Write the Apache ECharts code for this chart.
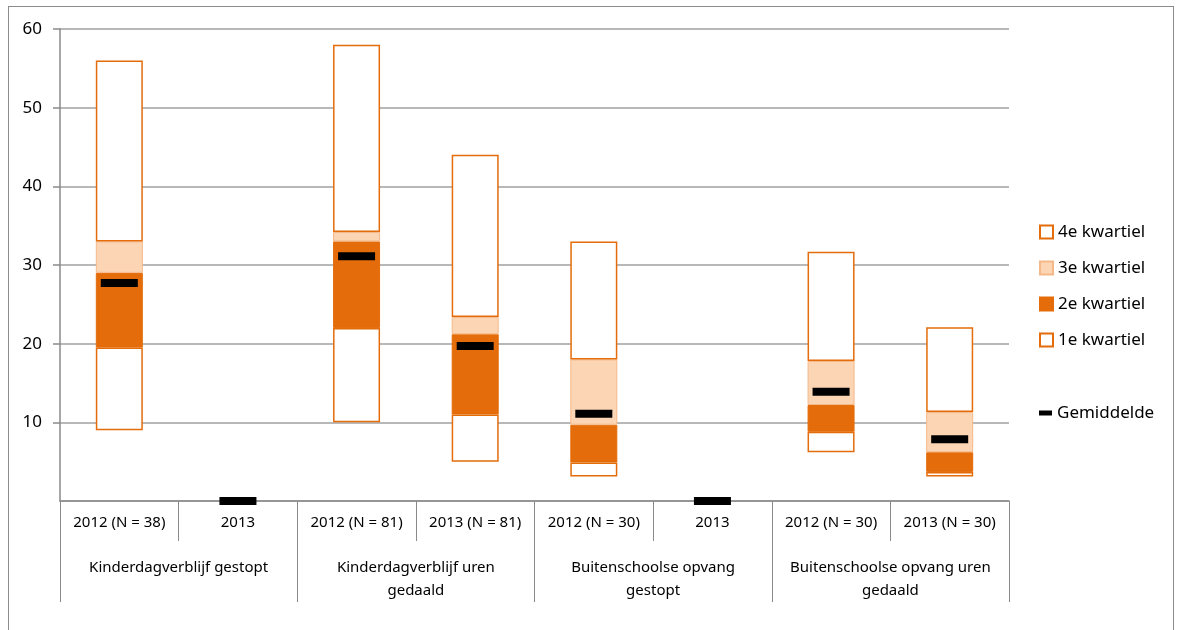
<!DOCTYPE html>
<html>
<head>
<meta charset="utf-8">
<script src="https://cdn.jsdelivr.net/npm/echarts@6/dist/echarts.min.js"></script>
<style>
  html, body { margin: 0; padding: 0; background: #fff; }
  #wrap { position: relative; width: 1177px; height: 630px; overflow: hidden; }
  #frame { position: absolute; left: 8px; top: 6px; width: 1166px; height: 660px; border: 1px solid #8c8c8c; box-sizing: border-box; }
  #chart { position: absolute; left: 0; top: 0; width: 1177px; height: 630px; }
</style>
</head>
<body>
<div id="wrap">
  <div id="frame"></div>
  <div id="chart"></div>
</div>
<script>
// categories (lower level) and groups (upper level)
const categories = ["2012 (N = 38)", "2013", "2012 (N = 81)", "2013 (N = 81)", "2012 (N = 30)", "2013", "2012 (N = 30)", "2013 (N = 30)"];
const groups = ["Kinderdagverblijf gestopt", "Kinderdagverblijf uren\ngedaald", "Buitenschoolse opvang\ngestopt", "Buitenschoolse opvang uren\ngedaald"];

// quartile boundaries (null = no data)
const minimum = [9, null, 10, 5, 3.1, null, 6.2, 3.1];
const q1 = [19.5, null, 22, 11, 4.9, null, 8.8, 3.7];
const median = [29, null, 33, 21.2, 9.7, null, 12.2, 6.2];
const q3 = [33, null, 34.2, 23.4, 18, null, 17.8, 11.3];
const maximum = [56, null, 58, 44, 33, null, 31.7, 22.1];
const mean = [27.7, 0, 31.1, 19.7, 11.1, 0, 13.9, 7.85];

const yTicks = { min: 0, max: 60, interval: 10 };

const ORANGE = "#e46c0a";
const PEACH = "#fcd5b5";
const GRID = "#a0a0a0";
const AXIS = "#8a8a8a";
const FONT = "Noto Sans";

function diff(a, b) {
  return a.map((v, i) => (v == null || b[i] == null ? "-" : +(v - b[i]).toFixed(3)));
}

var chart = echarts.init(document.getElementById("chart"));

var barBase = { type: "bar", stack: "box", barWidth: 47, xAxisIndex: 0 };
var legendText = { fontFamily: FONT, fontSize: 17, color: "#000", lineHeight: 20 };

var option = {
  animation: false,
  textStyle: { fontFamily: FONT, color: "#000" },
  grid: { left: 60, right: 168, top: 29, bottom: 129 },
  legend: [
    {
      orient: "vertical",
      left: 1034,
      top: 217,
      itemWidth: 13,
      itemHeight: 13,
      itemGap: 16,
      selectedMode: false,
      icon: "rect",
      textStyle: legendText,
      data: ["4e kwartiel", "3e kwartiel", "2e kwartiel", "1e kwartiel"],
    },
    {
      orient: "vertical",
      left: 1034,
      top: 398,
      itemWidth: 13,
      itemHeight: 5,
      selectedMode: false,
      icon: "rect",
      textStyle: legendText,
      data: ["Gemiddelde"],
    },
  ],
  xAxis: [
    {
      type: "category",
      data: categories,
      position: "bottom",
      boundaryGap: true,
      axisLine: { show: true, lineStyle: { color: AXIS, width: 1.5 } },
      axisTick: { show: true, length: 40, lineStyle: { color: AXIS, width: 1 } },
      axisLabel: { interval: 0, margin: 12, fontSize: 15, lineHeight: 20, color: "#000", fontFamily: FONT },
      splitLine: { show: false },
    },
    {
      type: "category",
      data: groups,
      position: "bottom",
      offset: 0,
      boundaryGap: true,
      axisLine: { show: false },
      axisTick: { show: true, length: 101, lineStyle: { color: AXIS, width: 1 } },
      axisLabel: { interval: 0, margin: 55, fontSize: 15, lineHeight: 23, color: "#000", fontFamily: FONT },
      splitLine: { show: false },
    },
  ],
  yAxis: {
    type: "value",
    min: yTicks.min,
    max: yTicks.max,
    interval: yTicks.interval,
    axisLine: { show: true, lineStyle: { color: AXIS, width: 1.5 } },
    axisTick: { show: true, length: 7, lineStyle: { color: AXIS, width: 1.5 } },
    axisLabel: { showMinLabel: false, margin: 18, fontSize: 17, color: "#000", fontFamily: FONT },
    splitLine: { show: true, lineStyle: { color: GRID, width: 1.5 } },
  },
  series: [
    Object.assign({}, barBase, {
      name: "base",
      data: minimum.map((v) => (v == null ? "-" : v)),
      itemStyle: { color: "rgba(0,0,0,0)" },
      silent: true,
    }),
    Object.assign({}, barBase, {
      name: "1e kwartiel",
      data: diff(q1, minimum),
      itemStyle: { color: "#fff", borderColor: ORANGE, borderWidth: 1.5 },
    }),
    Object.assign({}, barBase, {
      name: "2e kwartiel",
      data: diff(median, q1),
      itemStyle: { color: ORANGE, borderColor: ORANGE, borderWidth: 1 },
    }),
    Object.assign({}, barBase, {
      name: "3e kwartiel",
      data: diff(q3, median),
      itemStyle: { color: PEACH, borderColor: "#f5b888", borderWidth: 1 },
    }),
    Object.assign({}, barBase, {
      name: "4e kwartiel",
      data: diff(maximum, q3),
      itemStyle: { color: "#fff", borderColor: ORANGE, borderWidth: 1.5 },
    }),
    {
      name: "Gemiddelde",
      type: "scatter",
      xAxisIndex: 0,
      data: mean,
      symbol: "rect",
      symbolSize: [37, 8],
      clip: false,
      z: 10,
      itemStyle: { color: "#000", opacity: 1 },
    },
  ],
};

chart.setOption(option);
</script>
</body>
</html>
